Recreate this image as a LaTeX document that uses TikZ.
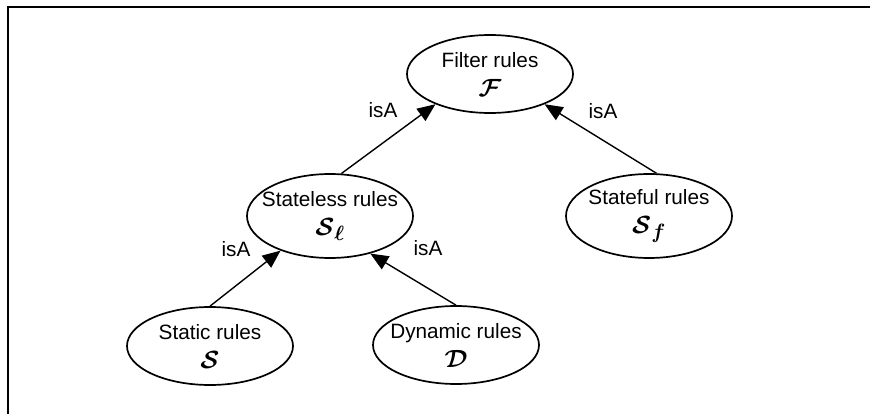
\documentclass[tikz,border=0pt]{standalone}
\usepackage{amsmath,amssymb,bm}
\usepackage{fontspec}
\setmainfont{Liberation Sans}
\usetikzlibrary{shapes.geometric,arrows.meta}
% class symbol under the rule name
\newcommand{\rulesym}[1]{{\fontsize{24.88}{25}\selectfont$\bm{#1}$}}

\begin{document}
\begin{tikzpicture}[x=1pt,y=-1pt,
    rule/.style={draw,ellipse,line width=1.7pt,inner xsep=-20pt,inner ysep=0pt,
      minimum width=166pt,minimum height=78pt,align=center,
      font=\fontsize{20.74}{25}\selectfont},
    isa/.style={-{Triangle[length=18pt,width=15pt]},line width=1.4pt},
    lbl/.style={font=\fontsize{20.74}{25}\selectfont}]
  \useasboundingbox (0,0) rectangle (870,414);
  \draw[line width=2.7pt] (8,414) -- (8,7) -- (870,7); % frame: left and top edge
  % rule classes
  \node[rule] (filter)    at (490,74)  {Filter rules\\[4pt]\rulesym{\mathcal{F}}};
  \node[rule,minimum height=84pt] (stateless) at (330,216) {Stateless rules\\[4pt]\rulesym{\mathcal{S}_\ell}};
  \node[rule,minimum height=84pt] (stateful)  at (649,216) {Stateful rules\\[4pt]\rulesym{\mathcal{S}_f}};
  \node[rule] (static)    at (210,346) {Static rules\\[4pt]\rulesym{\mathcal{S}}};
  \node[rule] (dynamic)   at (456,345) {Dynamic rules\\[4pt]\rulesym{\mathcal{D}}};
  % isA links
  \draw[isa] (stateless.75) -- (filter.209);
  \draw[isa] (stateful.80) -- (filter.331);
  \draw[isa] (static.north) -- (stateless.215);
  \draw[isa] (dynamic.north) -- (stateless.317);
  \node[lbl] (isa1) at (383,110) {isA};
  \node[lbl] (isa2) at (603,111) {isA};
  \node[lbl] (isa3) at (236,249) {isA};
  \node[lbl] (isa4) at (428,248) {isA};
\end{tikzpicture}
\end{document}
